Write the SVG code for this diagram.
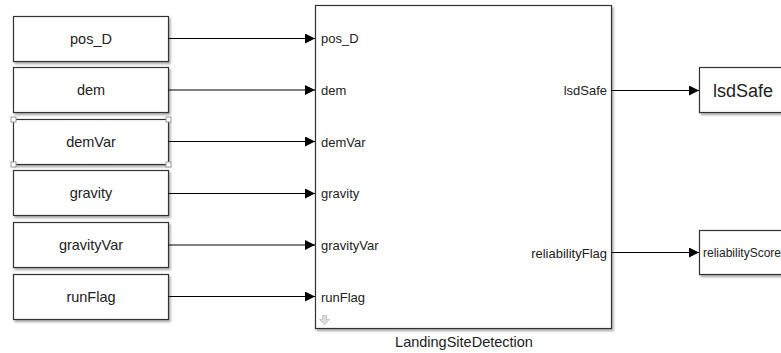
<svg xmlns="http://www.w3.org/2000/svg" width="781" height="353" viewBox="0 0 781 353">
  <defs>
    <marker id="arrow" viewBox="0 0 10 10" refX="10" refY="5" markerWidth="10" markerHeight="10" markerUnits="userSpaceOnUse" orient="auto">
      <path d="M0,0 L10,5 L0,10 z" fill="#000"/>
    </marker>
    <filter id="shadow" x="-5%" y="-5%" width="110%" height="115%">
      <feDropShadow dx="1.5" dy="2" stdDeviation="1.2" flood-color="#000" flood-opacity="0.35"/>
    </filter>
  </defs>
  <style>
    .blk { fill: #fff; stroke: #333; stroke-width: 1.2; filter: url(#shadow); }
    .lbl { font-family: "Liberation Sans", Arial, sans-serif; font-size: 14.5px; fill: #222; }
    .port { font-family: "Liberation Sans", Arial, sans-serif; font-size: 13px; fill: #222; }
    .wire { stroke: #000; stroke-width: 1; fill: none; marker-end: url(#arrow); }
    .handle { fill: #fff; stroke: #999; stroke-width: 1; }
  </style>
  <rect width="781" height="353" fill="#fff"/>

  <!-- source blocks -->
  <g id="pos_D">
    <rect class="blk" x="13.5" y="16.5" width="155" height="45"/>
    <text class="lbl" x="91" y="43.5" text-anchor="middle">pos_D</text>
  </g>
  <g id="dem">
    <rect class="blk" x="13.5" y="67.5" width="155" height="45"/>
    <text class="lbl" x="91" y="95" text-anchor="middle">dem</text>
  </g>
  <g id="demVar">
    <rect class="blk" x="13.5" y="119.5" width="155" height="45"/>
    <text class="lbl" x="91" y="146.5" text-anchor="middle">demVar</text>
    <rect class="handle" x="11" y="117" width="5" height="5"/>
    <rect class="handle" x="166" y="117" width="5" height="5"/>
    <rect class="handle" x="11" y="162" width="5" height="5"/>
    <rect class="handle" x="166" y="162" width="5" height="5"/>
  </g>
  <g id="gravity">
    <rect class="blk" x="13.5" y="170.5" width="155" height="45"/>
    <text class="lbl" x="91" y="198" text-anchor="middle">gravity</text>
  </g>
  <g id="gravityVar">
    <rect class="blk" x="13.5" y="222.5" width="155" height="45"/>
    <text class="lbl" x="91" y="250" text-anchor="middle">gravityVar</text>
  </g>
  <g id="runFlag">
    <rect class="blk" x="13.5" y="274.5" width="155" height="45"/>
    <text class="lbl" x="91" y="301.5" text-anchor="middle">runFlag</text>
  </g>

  <!-- subsystem -->
  <g id="LandingSiteDetection">
    <rect class="blk" x="315.5" y="5.5" width="296" height="323"/>
    <text class="port" x="321" y="43">pos_D</text>
    <text class="port" x="321" y="95">dem</text>
    <text class="port" x="321" y="146.5">demVar</text>
    <text class="port" x="321" y="198">gravity</text>
    <text class="port" x="321" y="249.5">gravityVar</text>
    <text class="port" x="321" y="301.5">runFlag</text>
    <text class="port" x="607" y="95" text-anchor="end">lsdSafe</text>
    <text class="port" x="607" y="257.5" text-anchor="end">reliabilityFlag</text>
    <path d="M322.5,315.5 h4 v4 h3 l-5,5 l-5,-5 h3 z" fill="#ddd" stroke="#bbb" stroke-width="0.8"/>
    <text class="port" x="464" y="347" text-anchor="middle" style="font-size:14.5px">LandingSiteDetection</text>
  </g>

  <!-- sinks -->
  <g id="lsdSafe">
    <rect class="blk" x="699.5" y="67.5" width="90" height="45"/>
    <text class="lbl" x="713" y="96.5" style="font-size:18px">lsdSafe</text>
  </g>
  <g id="reliabilityScore">
    <rect class="blk" x="699.5" y="230.5" width="90" height="44"/>
    <text class="port" x="703" y="257" style="font-size:12px">reliabilityScore</text>
  </g>

  <!-- signal lines -->
  <g id="connectors">
    <path class="wire" d="M168.5,38.5 H315"/>
    <path class="wire" d="M168.5,90 H315"/>
    <path class="wire" d="M168.5,141.5 H315"/>
    <path class="wire" d="M168.5,193.5 H315"/>
    <path class="wire" d="M168.5,245 H315"/>
    <path class="wire" d="M168.5,296.5 H315"/>
    <path class="wire" d="M611.5,90.5 H699"/>
    <path class="wire" d="M611.5,252.5 H699"/>
  </g>
</svg>
